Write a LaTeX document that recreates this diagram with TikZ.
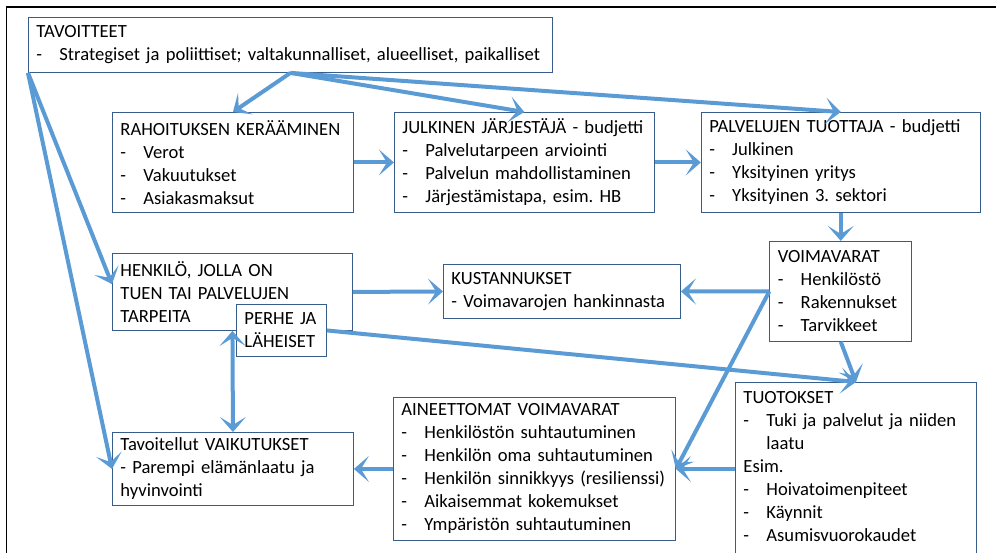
\documentclass[tikz,border=0pt]{standalone}
\usepackage{fontspec}
\setmainfont{Carlito}
\usetikzlibrary{positioning, arrows.meta, calc}
\definecolor{ovBorder}{HTML}{385D8A}
\definecolor{ovBlue}{HTML}{5B9BD5}
\newcommand{\ovfont}{\fontsize{18.6}{23}\selectfont}
\newcommand{\dashitem}[1]{\makebox[23pt][l]{-}#1}
\tikzset{
    ovBox/.style={
        rectangle,
        draw=ovBorder,
        line width=0.9pt,
        fill=white,
        anchor=north west,
        align=left,
        inner xsep=8pt,
        inner ysep=5pt,
        font=\ovfont
    },
    % Arrows
    ovArrow/.style={-{Stealth[length=15pt, width=26pt, inset=8pt]}, line width=4pt, draw=ovBlue},
    ovBoth/.style={ovArrow, {Stealth[length=15pt, width=26pt, inset=8pt]}-{Stealth[length=15pt, width=26pt, inset=8pt]}}
}

\begin{document}
\frenchspacing
\begin{tikzpicture}[x=1pt, y=-1pt]
\useasboundingbox (0,0) rectangle (996,552);
\draw[line width=1.6pt] (6.5,7) rectangle (1010,570);

\node[ovBox, text width=508pt, minimum height=55pt] (tavoitteet) at (28,17)
  {TAVOITTEET\\\dashitem{Strategiset ja poliittiset; valtakunnalliset, alueelliset, paikalliset}};
\node[ovBox, text width=225pt, minimum height=100pt] (rahoitus) at (112,112)
  {RAHOITUKSEN KERÄÄMINEN\\\dashitem{Verot}\\\dashitem{Vakuutukset}\\\dashitem{Asiakasmaksut}};
\node[ovBox, text width=244pt, minimum height=100pt, right=40pt of rahoitus.north east, anchor=north west] (jarjestaja)
  {JULKINEN JÄRJESTÄJÄ - budjetti\\\dashitem{Palvelutarpeen arviointi}\\\dashitem{Palvelun mahdollistaminen}\\\dashitem{Järjestämistapa, esim. HB}};
\node[ovBox, text width=263pt, minimum height=100pt, right=46pt of jarjestaja.north east, anchor=north west] (tuottaja)
  {PALVELUJEN TUOTTAJA - budjetti\\\dashitem{Julkinen}\\\dashitem{Yksityinen yritys}\\\dashitem{Yksityinen 3. sektori}};
\node[ovBox, text width=126pt, minimum height=100pt, below=28pt of tuottaja.south, anchor=north] (voimavarat)
  {VOIMAVARAT\\\dashitem{Henkilöstö}\\\dashitem{Rakennukset}\\\dashitem{Tarvikkeet}};
\node[ovBox, text width=224pt, minimum height=77pt] (henkilo) at (112,253)
  {HENKILÖ, JOLLA ON\\TUEN TAI PALVELUJEN\\TARPEITA};
\node[ovBox, text width=74pt, minimum height=52pt] (perhe) at (236,304)
  {PERHE JA\\LÄHEISET};
\node[ovBox, text width=221pt, minimum height=54pt] (kustannukset) at (443,264)
  {KUSTANNUKSET\\- Voimavarojen hankinnasta};
\node[ovBox, text width=225pt, inner ysep=9pt] (tuotokset) at (735,382)
  {TUOTOKSET\\\dashitem{Tuki ja palvelut ja niiden}\\\hspace*{23pt}laatu\\Esim.\\\dashitem{Hoivatoimenpiteet}\\\dashitem{Käynnit}\\\dashitem{Asumisvuorokaudet}\\\mbox{}};
\node[ovBox, text width=266pt, minimum height=143pt] (aineettomat) at (393,397)
  {AINEETTOMAT VOIMAVARAT\\\dashitem{Henkilöstön suhtautuminen}\\\dashitem{Henkilön oma suhtautuminen}\\\dashitem{Henkilön sinnikkyys (resilienssi)}\\\dashitem{Aikaisemmat kokemukset}\\\dashitem{Ympäristön suhtautuminen}};
\node[ovBox, text width=225pt, minimum height=73pt] (vaikutukset) at (112,432)
  {Tavoitellut VAIKUTUKSET\\- Parempi elämänlaatu ja\\hyvinvointi};

\draw[ovArrow] (tavoitteet.south) -- (rahoitus.north);
\draw[ovArrow] (tavoitteet.south) -- (jarjestaja.north);
\draw[ovArrow] (tavoitteet.south) -- (tuottaja.north);
\draw[ovArrow] (tavoitteet.south west) -- ($(henkilo.north west)!0.4!(henkilo.south west)$);
\draw[ovArrow] (tavoitteet.south west) -- (vaikutukset.west);
\draw[ovArrow] (rahoitus.east) -- (jarjestaja.west);
\draw[ovArrow] (jarjestaja.east) -- (tuottaja.west);
\draw[ovArrow] (tuottaja.south) -- (voimavarat.north);
\draw[ovArrow] (voimavarat.west) -- (kustannukset.east);
\draw[ovArrow] (henkilo.east) -- (kustannukset.west);
\draw[ovArrow] (voimavarat.south) -- (tuotokset.north);
\draw[ovArrow] (perhe.east) -- (tuotokset.north);
\draw[ovArrow] (voimavarat.west) -- (aineettomat.east);
\draw[ovArrow] (tuotokset.west |- aineettomat.east) -- (aineettomat.east);
\draw[ovArrow] (aineettomat.west) -- (vaikutukset.east);
\draw[ovBoth] (henkilo.south) -- (vaikutukset.north);
\end{tikzpicture}
\end{document}
